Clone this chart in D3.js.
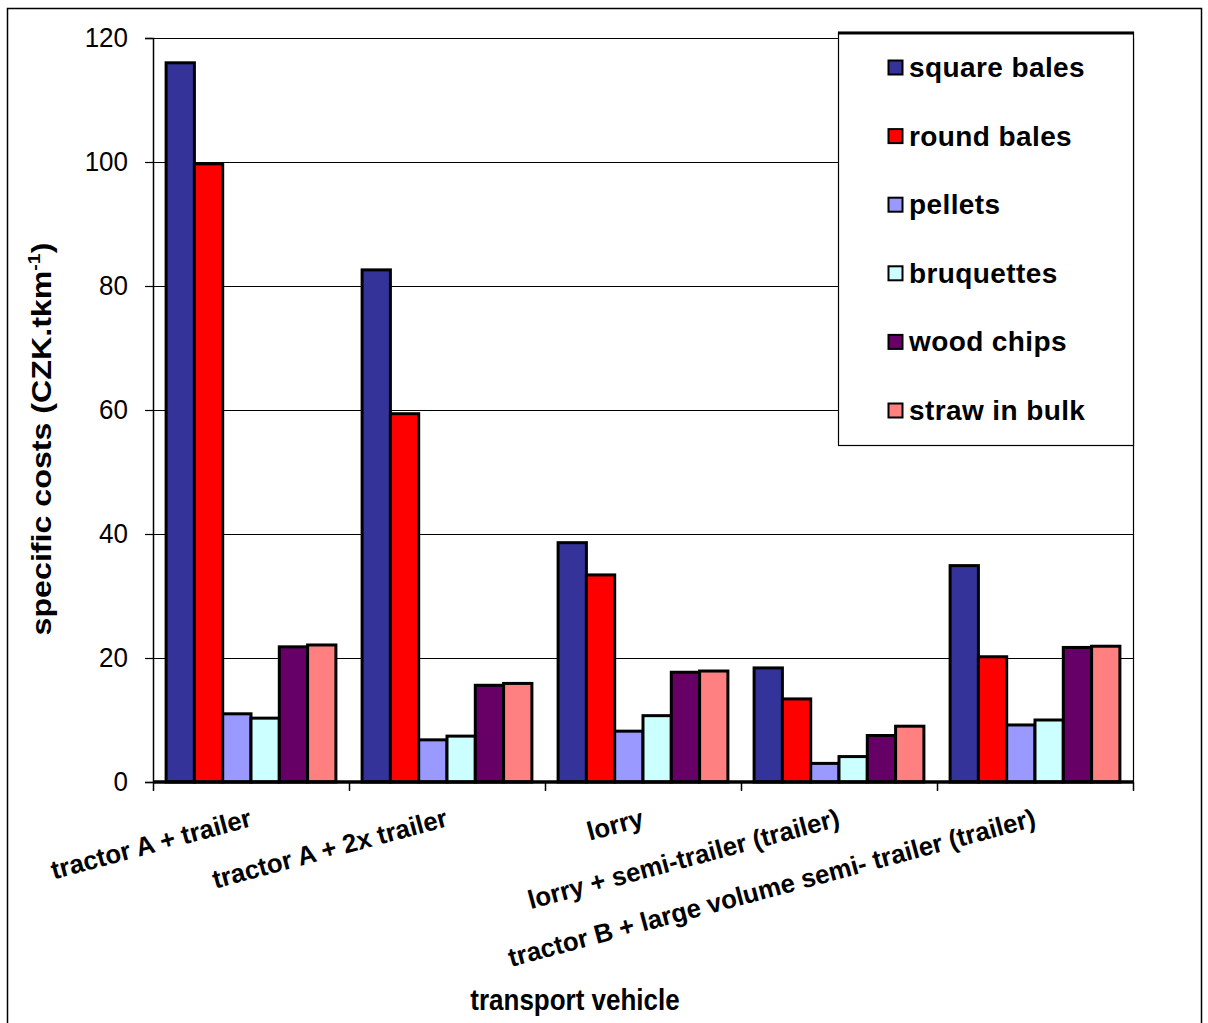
<!DOCTYPE html>
<html>
<head>
<meta charset="utf-8">
<script src="https://cdn.jsdelivr.net/npm/d3@7/dist/d3.min.js"></script>
<style>
  html, body { margin: 0; padding: 0; background: #fff; }
  svg { display: block; }
  text { font-family: "Liberation Sans", Arial, sans-serif; fill: #000; }
</style>
</head>
<body>
<script>
// Transport vehicles (x categories)
const vehicles = [
  "tractor A + trailer",
  "tractor A + 2x trailer",
  "lorry",
  "lorry + semi-trailer (trailer)",
  "tractor B + large volume semi- trailer (trailer)"
];

// Material series
const materials = ["square bales", "round bales", "pellets", "bruquettes", "wood chips", "straw in bulk"];
const colors = ["#333399", "#FF0000", "#9999FF", "#CCFFFF", "#660066", "#FF8080"];

// Specific costs (CZK per t.km), one array per material, in vehicle order
const squareBales = [116.0, 82.6, 38.6, 18.4, 34.9];
const roundBales  = [99.7, 59.4, 33.4, 13.4, 20.2];
const pellets     = [11.0, 6.8, 8.2, 3.0, 9.2];
const bruquettes  = [10.3, 7.4, 10.7, 4.1, 10.0];
const woodChips   = [21.8, 15.6, 17.7, 7.5, 21.7];
const strawInBulk = [22.1, 15.9, 17.9, 9.0, 21.9];

const yTicks = [0, 20, 40, 60, 80, 100, 120];

const seriesValues = [squareBales, roundBales, pellets, bruquettes, woodChips, strawInBulk];

const W = 1208, H = 1023;
const plot = { left: 153, right: 1133, top: 38, bottom: 782 };

const svg = d3.select("body").append("svg")
  .attr("width", W).attr("height", H);

// Outer chart frame
svg.append("path")
  .attr("d", `M7.5,${H + 5} V8.5 H1201.5 V${H + 5}`)
  .attr("fill", "none").attr("stroke", "#000").attr("stroke-width", 1.5);

const y = d3.scaleLinear().domain([0, 120]).range([plot.bottom, plot.top]);
const x0 = d3.scaleBand().domain(vehicles).range([plot.left, plot.right]).padding(0);
const x1 = d3.scaleBand().domain(materials).range([0, x0.bandwidth()])
  .paddingInner(0).paddingOuter(0.463);

// Gridlines
svg.append("g").selectAll("line").data(yTicks.filter(t => t > 0)).join("line")
  .attr("x1", plot.left).attr("x2", plot.right)
  .attr("y1", d => Math.round(y(d)) + 0.5).attr("y2", d => Math.round(y(d)) + 0.5)
  .attr("stroke", "#000").attr("stroke-width", 1.2);

// Right edge of plot area
svg.append("line")
  .attr("x1", plot.right + 0.5).attr("x2", plot.right + 0.5)
  .attr("y1", plot.top).attr("y2", plot.bottom)
  .attr("stroke", "#000").attr("stroke-width", 1.2);

// Bars
const groups = svg.append("g").selectAll("g").data(vehicles).join("g")
  .attr("transform", d => `translate(${x0(d)},0)`);

groups.selectAll("rect")
  .data((v, vi) => materials.map((m, mi) => ({ m, mi, value: seriesValues[mi][vi] })))
  .join("rect")
  .attr("x", d => x1(d.m))
  .attr("width", x1.bandwidth())
  .attr("y", d => y(d.value))
  .attr("height", d => y(0) - y(d.value))
  .attr("fill", d => colors[d.mi])
  .attr("stroke", "#000")
  .attr("stroke-width", 3);

// Y axis
const yAxis = d3.axisLeft(y).tickValues(yTicks).tickSize(8).tickPadding(17);
const gy = svg.append("g").attr("transform", `translate(${plot.left},0)`).call(yAxis);
gy.select(".domain").attr("stroke", "#000").attr("stroke-width", 1.5);
gy.selectAll(".tick line").attr("stroke", "#000").attr("stroke-width", 1.2);
gy.selectAll(".tick text")
  .style("font-family", '"Liberation Sans", Arial, sans-serif')
  .style("font-size", "26px").attr("fill", "#000")
  .attr("transform", "scale(1,1.08)");

// X axis (ticks on category boundaries)
svg.append("line")
  .attr("x1", plot.left).attr("x2", plot.right)
  .attr("y1", plot.bottom).attr("y2", plot.bottom)
  .attr("stroke", "#000").attr("stroke-width", 3.5);
const boundaries = vehicles.map(v => x0(v)).concat([plot.right]);
svg.append("g").selectAll("line").data(boundaries).join("line")
  .attr("x1", d => d + 0.5).attr("x2", d => d + 0.5)
  .attr("y1", plot.bottom).attr("y2", plot.bottom + 9)
  .attr("stroke", "#000").attr("stroke-width", 1.5);

// Category labels, rotated
svg.append("g").selectAll("text").data(vehicles).join("text")
  .attr("transform", d => `translate(${x0(d) + x0.bandwidth() / 2 + 2},826) rotate(-15) scale(1.03,1.05)`)
  .attr("text-anchor", "end")
  .style("font-size", "25px").style("font-weight", "bold")
  .text(d => d);

// Y axis title
const yTitle = svg.append("text")
  .attr("transform", "translate(51,439) rotate(-90) scale(1.15,1)")
  .attr("text-anchor", "middle")
  .style("font-size", "28px").style("font-weight", "bold");
yTitle.append("tspan").text("specific costs (CZK.tkm");
yTitle.append("tspan").attr("dy", -11).style("font-size", "17px").text("-1");
yTitle.append("tspan").attr("dy", 11).text(")");

// X axis title
svg.append("text")
  .attr("transform", "translate(575,1010) scale(1.0,1.12)")
  .attr("text-anchor", "middle")
  .style("font-size", "26px").style("font-weight", "bold")
  .text("transport vehicle");

// Legend
const legend = svg.append("g");
legend.append("rect")
  .attr("x", 838.5).attr("y", 32.5).attr("width", 295).attr("height", 413)
  .attr("fill", "#fff").attr("stroke", "#000").attr("stroke-width", 1.2);
legend.append("line")
  .attr("x1", 838).attr("x2", 1134).attr("y1", 33).attr("y2", 33)
  .attr("stroke", "#000").attr("stroke-width", 3);

const rowY = d3.scaleLinear().domain([0, materials.length - 1]).range([77, 420]);
const items = legend.selectAll("g.item").data(materials).join("g")
  .attr("class", "item")
  .attr("transform", (d, i) => `translate(0,${rowY(i)})`);
items.append("rect")
  .attr("x", 888.5).attr("y", -16.5).attr("width", 14).attr("height", 14)
  .attr("fill", (d, i) => colors[i])
  .attr("stroke", "#000").attr("stroke-width", 2);
items.append("text")
  .attr("x", 909).attr("y", 0)
  .style("font-size", "28px").style("font-weight", "bold")
  .style("letter-spacing", "0.4px")
  .text(d => d);
</script>
</body>
</html>
